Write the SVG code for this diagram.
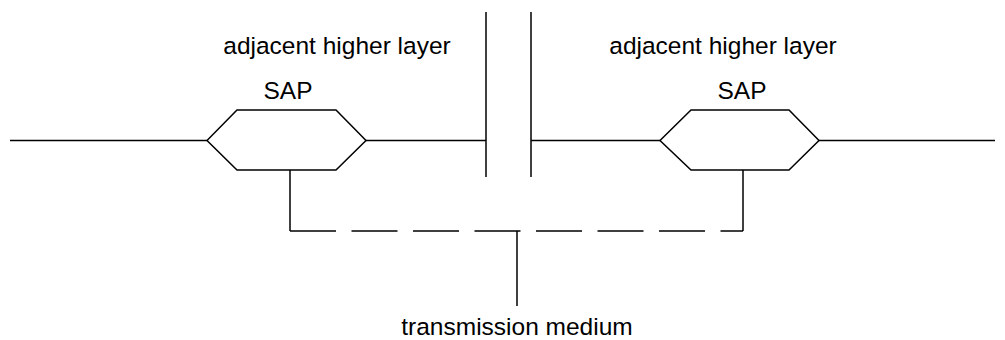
<svg xmlns="http://www.w3.org/2000/svg" width="1005" height="340" viewBox="0 0 1005 340">
<style>
.ln{fill:none;stroke:#000;stroke-width:1.5}
.hex{fill:#fff;stroke:#000;stroke-width:1.5}
.dash{fill:none;stroke:#000;stroke-width:1.5;stroke-dasharray:46 15.5}
.t{font-family:"Liberation Sans",Arial,sans-serif;font-size:24.5px;fill:#000;text-anchor:middle}
</style>
<rect width="1005" height="340" fill="#fff"/>
<g id="connectors">
<line class="ln" x1="10" y1="140.5" x2="207" y2="140.5"/>
<line class="ln" x1="366" y1="140.5" x2="486" y2="140.5"/>
<line class="ln" x1="531" y1="140.5" x2="660" y2="140.5"/>
<line class="ln" x1="819" y1="140.5" x2="995" y2="140.5"/>
<line class="ln" x1="290" y1="170" x2="290" y2="231"/>
<line class="dash" x1="290" y1="231" x2="743" y2="231"/>
<line class="ln" x1="743" y1="170" x2="743" y2="231"/>
<line class="ln" x1="517" y1="231" x2="517" y2="306"/>
</g>
<g id="layer-boundary">
<line class="ln" x1="486" y1="12" x2="486" y2="177"/>
<line class="ln" x1="531" y1="12" x2="531" y2="177"/>
</g>
<g id="left-layer">
<text class="t" x="337" y="54">adjacent higher layer</text>
</g>
<g id="right-layer">
<text class="t" x="723" y="54">adjacent higher layer</text>
</g>
<g id="left-sap">
<polygon class="hex" points="207,140.5 237,110 336,110 366,140.5 336,170 237,170"/>
<text class="t" x="288" y="99">SAP</text>
</g>
<g id="right-sap">
<polygon class="hex" points="660,140.5 691,110 789,110 819,140.5 789,170 691,170"/>
<text class="t" x="742" y="99">SAP</text>
</g>
<g id="medium">
<text class="t" x="517" y="335">transmission medium</text>
</g>
</svg>
